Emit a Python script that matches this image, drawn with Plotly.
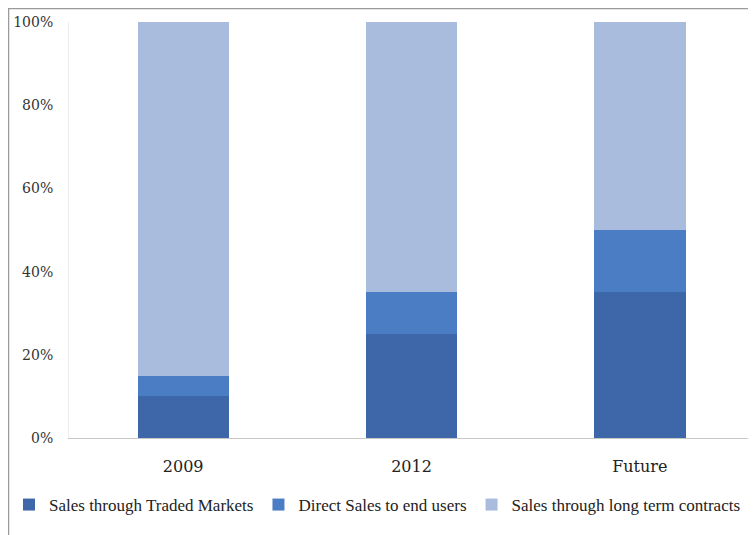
import plotly.graph_objects as go

categories = ["2009", "2012", "Future"]
traded_markets = [0.10, 0.25, 0.35]
direct_sales = [0.05, 0.10, 0.15]
long_term = [0.85, 0.65, 0.50]
y_ticks = [0, 0.2, 0.4, 0.6, 0.8, 1.0]
y_tick_labels = ["0%", "20%", "40%", "60%", "80%", "100%"]

series = [
    ("Sales through Traded Markets", traded_markets, "#3d67a9"),
    ("Direct Sales to end users", direct_sales, "#4b7dc4"),
    ("Sales through long term contracts", long_term, "#aabcde"),
]

fig = go.Figure()
for name, vals, color in series:
    fig.add_trace(go.Bar(x=categories, y=vals, name=name,
                         marker=dict(color=color, line=dict(width=0)),
                         width=0.4))

# page body has an 8px margin, so the figure is sized to fit the window
W, H = 748, 527
L, R, T, B = 61, 2, 14, 97
pw, ph = W - L - R, H - T - B

def px_x(v):
    return (v - L) / pw

def px_y(v):
    return (H - B - v) / ph

fig.update_layout(
    width=W, height=H,
    margin=dict(l=L, r=R, t=T, b=B, autoexpand=False),
    barmode="stack",
    paper_bgcolor="white", plot_bgcolor="white",
    font=dict(family="Liberation Serif, serif", color="#222"),
    xaxis=dict(showgrid=False, showline=True, linecolor="#c8c8c8", linewidth=1,
               tickfont=dict(size=16, family="DejaVu Serif, serif", color="#222"),
               ticks="", ticklabelstandoff=14),
    yaxis=dict(range=[0, 1], tickvals=y_ticks, ticktext=y_tick_labels,
               showgrid=False, showline=True, linecolor="#ececec", zeroline=False,
               tickfont=dict(size=14, family="DejaVu Serif, serif", color="#333"),
               ticks="", ticklabelstandoff=12),
    legend=dict(orientation="h", x=px_x(1), xanchor="left", y=px_y(497), yanchor="middle",
                font=dict(size=17, family="Liberation Serif, serif", color="#222"),
                bgcolor="rgba(0,0,0,0)",
                traceorder="normal", itemwidth=30, tracegroupgap=0),
    bargap=0.6,
    shapes=[
        dict(type="line", xref="paper", yref="paper", x0=px_x(0), x1=px_x(W),
             y0=px_y(0.5), y1=px_y(0.5), line=dict(color="#9a9a9a", width=1.5)),
        dict(type="line", xref="paper", yref="paper", x0=px_x(0.5), x1=px_x(0.5),
             y0=px_y(0), y1=px_y(H), line=dict(color="#9a9a9a", width=1.5)),
    ],
)

fig.write_html("out.html")
